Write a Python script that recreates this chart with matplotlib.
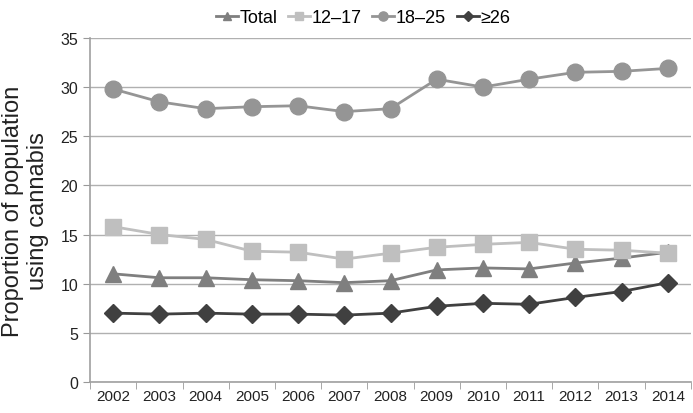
import matplotlib
matplotlib.use("Agg")
import matplotlib.pyplot as plt

years = ["2002", "2003", "2004", "2005", "2006", "2007", "2008", "2009", "2010", "2011", "2012", "2013", "2014"]
total = [11.0, 10.6, 10.6, 10.4, 10.3, 10.1, 10.3, 11.4, 11.6, 11.5, 12.1, 12.6, 13.2]
age_12_17 = [15.8, 15.0, 14.5, 13.3, 13.2, 12.5, 13.1, 13.7, 14.0, 14.2, 13.5, 13.4, 13.1]
age_18_25 = [29.8, 28.5, 27.8, 28.0, 28.1, 27.5, 27.8, 30.8, 30.0, 30.8, 31.5, 31.6, 31.9]
age_26_plus = [7.0, 6.9, 7.0, 6.9, 6.9, 6.8, 7.0, 7.7, 8.0, 7.9, 8.6, 9.2, 10.1]

plt.rcParams['font.family'] = ['Liberation Sans', 'DejaVu Sans']

fig = plt.figure(figsize=(6.93, 4.14), dpi=100)
ax = fig.add_axes([0.130, 0.075, 0.867, 0.831])

x = list(range(len(years)))
ax.plot(x, total, color='#7f7f7f', marker='^', markersize=11, lw=2, label='Total', zorder=3)
ax.plot(x, age_12_17, color='#bfbfbf', marker='s', markersize=11, lw=2, label='12\u201317', zorder=3)
ax.plot(x, age_18_25, color='#959595', marker='o', markersize=12, lw=2, label='18\u201325', zorder=3)
ax.plot(x, age_26_plus, color='#404040', marker='D', markersize=9, lw=2, label='\u226526', zorder=3)

ax.set_xlim(-0.5, len(years) - 0.5)
ax.set_ylim(0, 35)
ax.set_yticks(range(0, 36, 5))
ax.set_xticks(x)
ax.set_xticklabels(years)
ax.set_xticks([i - 0.5 for i in range(len(years) + 1)], minor=True)
ax.tick_params(axis='x', which='major', length=0, labelsize=11, colors='#222222', pad=5)
ax.tick_params(axis='x', which='minor', length=5, color='#999999', direction='out')
ax.tick_params(axis='y', length=5, color='#999999', labelsize=11.5, labelcolor='#222222')
ax.grid(axis='y', color='#b0b0b0', lw=1)
ax.set_axisbelow(True)
for s in ['top', 'right']:
    ax.spines[s].set_visible(False)
for s in ['left', 'bottom']:
    ax.spines[s].set_color('#a0a0a0')
    ax.spines[s].set_linewidth(1.2)

ax.set_ylabel('Proportion of population\nusing cannabis', fontsize=17, color='#222222', labelpad=8)

leg = fig.legend(loc='upper center', bbox_to_anchor=(0.524, 1.015), ncol=4, frameon=False,
                 fontsize=13, handlelength=1.2, columnspacing=0.6, handletextpad=0.1, markerscale=0.55)

fig.savefig('out.png', dpi=100)
